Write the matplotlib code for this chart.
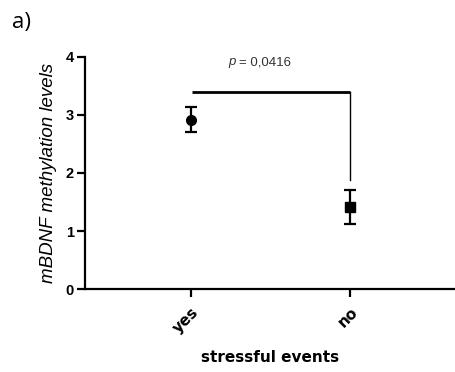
import matplotlib.pyplot as plt
import numpy as np

# group means and error bars
groups = ['yes', 'no']
means = [2.92, 1.41]
errors = [0.21, 0.29]
markers = ['o', 's']
p_label = '= 0,0416'
bracket_y = 3.39
bracket_bottom = 1.88

fig = plt.figure(figsize=(4.56, 3.72), dpi=100)
ax = fig.add_axes([0.1864, 0.2231, 0.8136, 0.6237])

x = np.arange(len(groups))
for xi, m, e, mk in zip(x, means, errors, markers):
    ax.errorbar(xi, m, yerr=e, fmt=mk, color='black', markersize=7,
                elinewidth=1.6, capsize=4, capthick=1.6)

# significance bracket
ax.plot([x[0] + 0.01, x[1]], [bracket_y, bracket_y], color='black', lw=2.0,
        solid_capstyle='butt')
ax.plot([x[1], x[1]], [bracket_y, bracket_bottom], color='black', lw=1.0)
ax.text(0.28, 3.91, 'p', fontstyle='italic', family='Liberation Sans',
        fontsize=9.5, color='#333333', ha='right', va='center')
ax.text(0.305, 3.91, p_label, family='Liberation Sans',
        fontsize=9.5, color='#333333', ha='left', va='center')

ax.set_xlim(-0.66, 1.66)
ax.set_ylim(0, 4)
ax.set_xticks(x)
ax.set_xticklabels(groups, rotation=45, ha='right', rotation_mode='anchor',
                   family='DejaVu Sans', fontsize=11, fontweight='bold')
ax.set_yticks([0, 1, 2, 3, 4])
ax.set_yticklabels(['0', '1', '2', '3', '4'], family='Liberation Sans',
                   fontsize=10.5, fontweight='bold')

for s in ['top', 'right']:
    ax.spines[s].set_visible(False)
for s in ['left', 'bottom']:
    ax.spines[s].set_linewidth(1.6)
ax.tick_params(direction='out', length=6, width=1.6, pad=2)
ax.tick_params(axis='x', pad=5)

ax.set_ylabel('mBDNF methylation levels', family='Liberation Sans',
              fontstyle='italic', fontsize=13.5, labelpad=6)
ax.set_xlabel('stressful events', family='DejaVu Sans', fontweight='bold',
              fontsize=11, labelpad=10)

fig.text(0.026, 0.94, 'a)', family='Open Sans', fontsize=16, va='center')

fig.savefig('out.png', dpi=100)
